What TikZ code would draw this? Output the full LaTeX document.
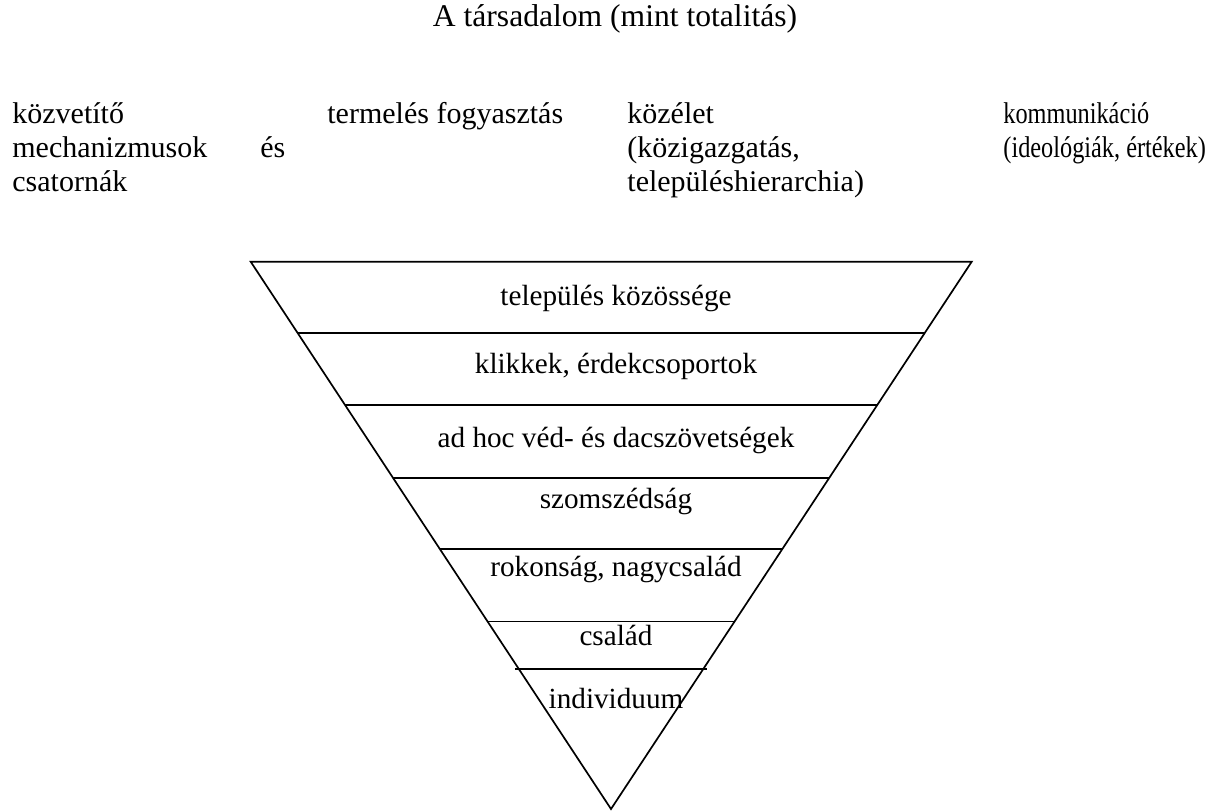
\documentclass[tikz,border=0pt]{standalone}
\usepackage{fontspec}
\usepackage{graphicx}
\setmainfont{Liberation Serif}
\usetikzlibrary{calc}
\begin{document}
\begin{tikzpicture}[x=0.5pt,y=-0.5pt,
  toptext/.style={inner sep=0pt,anchor=base west,font=\fontsize{15}{18}\selectfont},
  layer/.style={inner sep=0pt,anchor=base,font=\fontsize{14.6}{17}\selectfont},
  rule/.style={line width=0.85pt}]
% page area
\path[use as bounding box, fill=white] (0,0) rectangle (1208,812);

% heading
\node[inner sep=0pt,anchor=base,font=\fontsize{15.8}{18}\selectfont] (title) at (615,27) {A társadalom (mint totalitás)};

% the four columns of mediating spheres
\node[toptext] (c1a) at (12,124) {közvetítő};
\node[toptext] (c1b) at (12,158) {mechanizmusok};
\node[toptext] (c1c) at (260,158) {és};
\node[toptext] (c1d) at (12,192) {csatornák};
\node[toptext] (c2) at (327,124) {termelés fogyasztás};
\node[toptext] (c3a) at (627,124) {közélet};
\node[toptext] (c3b) at (627,158) {(közigazgatás,};
\node[toptext] (c3c) at (627,192) {településhierarchia)};
% the last column is set a little narrower to keep it on the page
\node[toptext] (c4a) at (1003,124) {\scalebox{0.81}[1]{kommunikáció}};
\node[toptext] (c4b) at (1003,158) {\scalebox{0.81}[1]{(ideológiák, értékek)}};

% inverted pyramid
\coordinate (TL) at (250.7,261.7);
\coordinate (TR) at (971.7,261.7);
\coordinate (AP) at (611,809);
\draw[rule,line join=miter] (TL) -- (TR) -- (AP) -- cycle;
\foreach \n/\t in {1/0.1303,2/0.2618,3/0.3947,4/0.5249,5/0.6574}{
  \coordinate (L\n) at ($(TL)!\t!(AP)$);
  \coordinate (R\n) at ($(TR)!\t!(AP)$);
  \draw[rule] (L\n) -- (R\n);
}
\coordinate (L6) at ($(TL)!0.7442!(AP)+(-4,0)$);
\coordinate (R6) at ($(TR)!0.7442!(AP)+(4,0)$);
\draw[rule] (L6) -- (R6);

% layer labels
\node[layer] (s1) at (616,306) {település közössége};
\node[layer] (s2) at (616,373) {klikkek, érdekcsoportok};
\node[layer] (s3) at (616,447) {ad hoc véd- és dacszövetségek};
\node[layer] (s4) at (616,508) {szomszédság};
\node[layer] (s5) at (616,576) {rokonság, nagycsalád};
\node[layer] (s6) at (616,645) {család};
\node[layer] (s7) at (616,708) {individuum};
\end{tikzpicture}
\end{document}
